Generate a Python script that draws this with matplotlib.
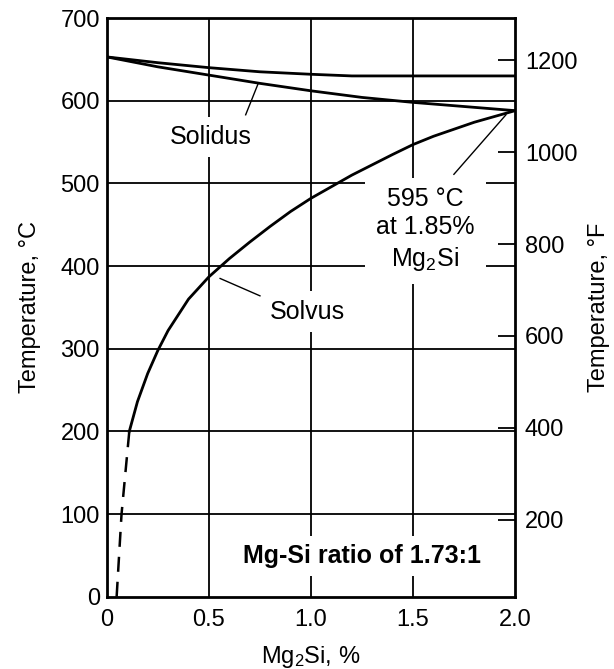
import matplotlib.pyplot as plt
import numpy as np

plt.rcParams['font.family'] = ['Liberation Sans', 'DejaVu Sans']
plt.rcParams['mathtext.fontset'] = 'custom'
plt.rcParams['mathtext.rm'] = 'Liberation Sans'
plt.rcParams['mathtext.it'] = 'Liberation Sans:italic'
plt.rcParams['mathtext.bf'] = 'Liberation Sans:bold'

# liquidus-like upper line and solidus
upper_x = [0, 0.25, 0.5, 0.75, 1.0, 1.2, 2.0]
upper_t = [653, 646, 640, 635, 632, 630, 630]
solidus_x = [0, 0.25, 0.5, 0.75, 1.0, 1.25, 1.5, 1.75, 2.0]
solidus_t = [653, 641, 631, 621, 612, 604, 598, 593, 588]
# solvus (solid) and its dashed extension to 0
solvus_x = [0.11, 0.15, 0.2, 0.25, 0.3, 0.4, 0.5, 0.6, 0.7, 0.8, 0.9, 1.0,
            1.2, 1.4, 1.5, 1.6, 1.8, 2.0]
solvus_t = [200, 236, 270, 298, 322, 360, 387, 409, 429, 448, 466, 482,
            510, 535, 547, 557, 574, 588]
dash_x = [0.048, 0.072, 0.11]
dash_t = [0, 100, 200]

x_ticks = [0, 0.5, 1.0, 1.5, 2.0]
x_labels = ['0', '0.5', '1.0', '1.5', '2.0']
c_ticks = [0, 100, 200, 300, 400, 500, 600, 700]
f_ticks = [200, 400, 600, 800, 1000, 1200]

fig = plt.figure(figsize=(6.14, 6.69), dpi=100)
ax = fig.add_axes([0.174, 0.108, 0.665, 0.865])

for x in x_ticks[1:-1]:
    ax.axvline(x, color='black', lw=1.3, zorder=1)
for t in c_ticks[1:-1]:
    ax.axhline(t, color='black', lw=1.3, zorder=1)

ax.plot(upper_x, upper_t, color='black', lw=2, zorder=4)
ax.plot(solidus_x, solidus_t, color='black', lw=2, zorder=4)
ax.plot(solvus_x, solvus_t, color='black', lw=2, zorder=4)
ax.plot(dash_x, dash_t, color='black', lw=1.8, ls=(0, (6, 4)), zorder=4)

ax.set_xlim(0, 2.0)
ax.set_ylim(0, 700)
ax.set_xticks(x_ticks, x_labels)
ax.set_yticks(c_ticks)
ax.tick_params(length=0, labelsize=17)
ax.tick_params(axis='x', pad=9)
ax.tick_params(axis='y', pad=5)
ax.set_xlabel(r'$\mathregular{Mg_2Si}$, %', fontsize=17, labelpad=9)
ax.set_ylabel('Temperature, °C', fontsize=17, labelpad=14)
for s in ax.spines.values():
    s.set_linewidth(2)

ax2 = ax.twinx()
ax2.set_ylim(0 * 1.8 + 32, 700 * 1.8 + 32)
ax2.set_yticks(f_ticks)
ax2.tick_params(direction='in', length=12, width=1.3, labelsize=17, pad=7)
ax2.set_ylabel('Temperature, °F', fontsize=17, labelpad=8)
for s in ax2.spines.values():
    s.set_visible(False)

box = dict(facecolor='white', edgecolor='none', pad=6)
ax.text(0.51, 556, 'Solidus', fontsize=18, ha='center', va='center', bbox=box, zorder=3)
ax.plot([0.68, 0.74], [583, 620], color='black', lw=1, zorder=4)
ax.text(0.98, 345, 'Solvus', fontsize=18, ha='center', va='center', bbox=box, zorder=3)
ax.plot([0.555, 0.75], [385, 364], color='black', lw=1, zorder=4)
ax.text(1.56, 444, '595 °C\nat 1.85%\n$\\mathregular{Mg_2Si}$', fontsize=18, ha='center',
        va='center', linespacing=1.25, bbox=dict(facecolor='white', edgecolor='none', pad=8),
        zorder=3)
ax.plot([1.70, 1.955], [511, 583], color='black', lw=1, zorder=4)
ax.text(1.25, 49, 'Mg-Si ratio of 1.73:1', fontsize=18, fontweight='bold',
        ha='center', va='center', bbox=box, zorder=3)

fig.savefig('out.png', dpi=100)
